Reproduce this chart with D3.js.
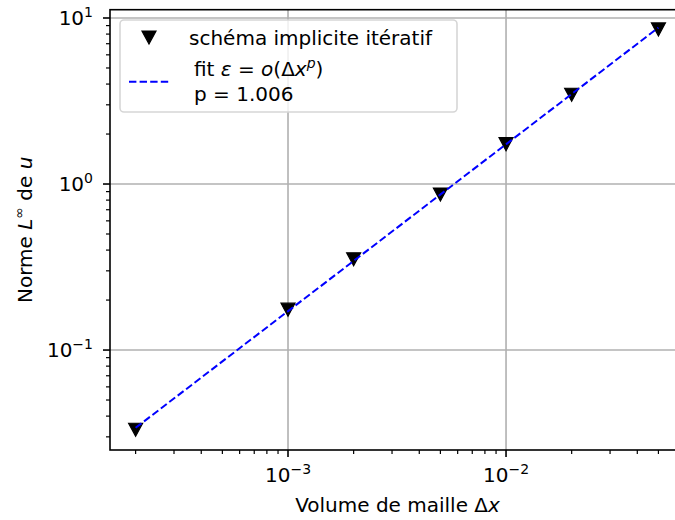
<!DOCTYPE html>
<html>
<head>
<meta charset="utf-8">
<script src="https://cdn.jsdelivr.net/npm/d3@7"></script>
<style>
  body { margin: 0; background: #fff; }
  text { font-family: "DejaVu Sans", sans-serif; fill: #000; }
</style>
</head>
<body>
<svg width="675" height="520"></svg>
<script>
// data
const xValues = [2e-4, 1e-3, 2e-3, 5e-3, 1e-2, 2e-2, 5e-2];
const yValues = [0.0331, 0.175, 0.352, 0.865, 1.738, 3.45, 8.53];
const fitX = [2e-4, 5e-2];
const fitY = [0.0340, 8.75];
const xMajorTicks = [1e-3, 1e-2];
const xTickExp = ['\u22123', '\u22122'];
const yMajorTicks = [0.1, 1, 10];
const yTickExp = ['\u22121', '0', '1'];
const legendMarkerLabel = 'schéma implicite itératif';
const legendFitLine2 = 'p = 1.006';

const svg = d3.select('svg');
const plotLeft = 110, plotRight = 685, plotTop = 9.7, plotBottom = 450;

const xScale = d3.scaleLog().domain([1.526e-4, 0.0662]).range([plotLeft, plotRight]);
const yScale = d3.scaleLog().domain([0.025, 11.22]).range([plotBottom, plotTop]);

svg.append('defs').append('clipPath').attr('id', 'plot')
  .append('rect').attr('x', plotLeft).attr('y', plotTop)
  .attr('width', plotRight - plotLeft).attr('height', plotBottom - plotTop);

// grid
const grid = svg.append('g').attr('stroke', '#b0b0b0').attr('stroke-width', 1.6);
grid.selectAll('.gx').data(xMajorTicks).join('line')
  .attr('x1', d => xScale(d)).attr('x2', d => xScale(d))
  .attr('y1', plotTop).attr('y2', plotBottom);
grid.selectAll('.gy').data(yMajorTicks).join('line')
  .attr('x1', plotLeft).attr('x2', plotRight)
  .attr('y1', d => yScale(d)).attr('y2', d => yScale(d));

// ticks
const isMajor = v => Math.abs(Math.log10(v) - Math.round(Math.log10(v))) < 1e-9;
const xMinor = xScale.ticks().filter(v => !isMajor(v));
const yMinor = yScale.ticks().filter(v => !isMajor(v));

const ticks = svg.append('g').attr('stroke', '#000');
ticks.selectAll('.xmaj').data(xMajorTicks).join('line')
  .attr('x1', d => xScale(d)).attr('x2', d => xScale(d))
  .attr('y1', plotBottom).attr('y2', plotBottom + 7).attr('stroke-width', 1.6);
ticks.selectAll('.xmin').data(xMinor).join('line')
  .attr('x1', d => xScale(d)).attr('x2', d => xScale(d))
  .attr('y1', plotBottom).attr('y2', plotBottom + 4).attr('stroke-width', 1.2);
ticks.selectAll('.ymaj').data(yMajorTicks).join('line')
  .attr('y1', d => yScale(d)).attr('y2', d => yScale(d))
  .attr('x1', plotLeft - 7).attr('x2', plotLeft).attr('stroke-width', 1.6);
ticks.selectAll('.ymin').data(yMinor).join('line')
  .attr('y1', d => yScale(d)).attr('y2', d => yScale(d))
  .attr('x1', plotLeft - 4).attr('x2', plotLeft).attr('stroke-width', 1.2);

// tick labels
const xLab = svg.append('g').selectAll('text').data(xMajorTicks).join('text')
  .attr('x', d => xScale(d)).attr('y', 482)
  .attr('text-anchor', 'middle').attr('font-size', 20);
xLab.append('tspan').text('10');
xLab.append('tspan').attr('dy', -8).attr('font-size', 14).text((d, i) => xTickExp[i]);

const yLab = svg.append('g').selectAll('text').data(yMajorTicks).join('text')
  .attr('x', 93).attr('y', d => yScale(d) + 7.3)
  .attr('text-anchor', 'end').attr('font-size', 20);
yLab.append('tspan').text('10');
yLab.append('tspan').attr('dy', -8).attr('font-size', 14).text((d, i) => yTickExp[i]);

// spines
svg.append('rect').attr('x', plotLeft).attr('y', plotTop)
  .attr('width', plotRight - plotLeft).attr('height', plotBottom - plotTop)
  .attr('fill', 'none').attr('stroke', '#000').attr('stroke-width', 1.6);

// data
const plot = svg.append('g').attr('clip-path', 'url(#plot)');
const tri = (cx, cy) => `M${cx - 7},${cy - 6.5}L${cx + 7},${cy - 6.5}L${cx},${cy + 6.5}Z`;

plot.selectAll('.pt').data(xValues).join('path')
  .attr('d', (d, i) => tri(xScale(d), yScale(yValues[i])))
  .attr('fill', '#000').attr('stroke', '#000').attr('stroke-width', 1.2);

const fitLine = d3.line().x(d => xScale(d[0])).y(d => yScale(d[1]));
plot.append('path')
  .attr('d', fitLine(d3.zip(fitX, fitY)))
  .attr('fill', 'none').attr('stroke', '#0000ff')
  .attr('stroke-width', 2).attr('stroke-dasharray', '7.4 3.2');

// axis labels
const xl = svg.append('text').attr('x', (plotLeft + plotRight) / 2).attr('y', 511.5)
  .attr('text-anchor', 'middle').attr('font-size', 20);
xl.append('tspan').text('Volume de maille Δ');
xl.append('tspan').attr('font-style', 'italic').text('x');

const yl = svg.append('text')
  .attr('transform', `translate(31.5, ${(plotTop + plotBottom) / 2}) rotate(-90)`)
  .attr('text-anchor', 'middle').attr('font-size', 20);
yl.append('tspan').text('Norme ');
yl.append('tspan').attr('font-style', 'italic').text('L');
yl.append('tspan').attr('dy', -8).attr('font-size', 14).text('∞');
yl.append('tspan').attr('dy', 8).text(' de ');
yl.append('tspan').attr('font-style', 'italic').text('u');

// legend
const lg = svg.append('g');
lg.append('rect').attr('x', 120).attr('y', 20).attr('width', 337).attr('height', 92)
  .attr('rx', 4).attr('fill', '#fff').attr('fill-opacity', 0.8)
  .attr('stroke', '#d6d6d6').attr('stroke-width', 1.6);
lg.append('path').attr('d', tri(149, 37.5)).attr('fill', '#000')
  .attr('stroke', '#000').attr('stroke-width', 1.2);
lg.append('text').attr('x', 189).attr('y', 44.5).attr('font-size', 20).text(legendMarkerLabel);
lg.append('line').attr('x1', 129).attr('x2', 170).attr('y1', 81.7).attr('y2', 81.7)
  .attr('stroke', '#0000ff').attr('stroke-width', 2).attr('stroke-dasharray', '7.4 3.2');
const f1 = lg.append('text').attr('x', 194).attr('y', 76).attr('font-size', 20);
f1.append('tspan').text('fit ');
f1.append('tspan').attr('font-style', 'italic').text('ε');
f1.append('tspan').text(' = ');
f1.append('tspan').attr('font-style', 'italic').text('o');
f1.append('tspan').text('(Δ');
f1.append('tspan').attr('font-style', 'italic').text('x');
f1.append('tspan').attr('font-style', 'italic').attr('dy', -8).attr('font-size', 14).text('p');
f1.append('tspan').attr('dy', 8).text(')');
lg.append('text').attr('x', 194).attr('y', 100.7).attr('font-size', 20).text(legendFitLine2);
</script>
</body>
</html>
